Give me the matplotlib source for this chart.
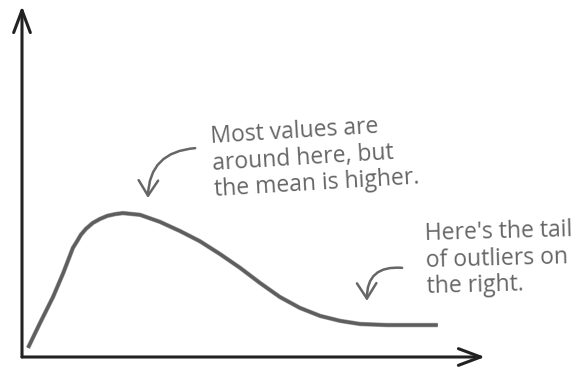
import matplotlib
matplotlib.use("Agg")
import matplotlib.pyplot as plt
from matplotlib.patches import FancyArrowPatch
import matplotlib.patheffects as pe

# ----------------------------
# DATA (axis units 0..10)
# ----------------------------
curve_x = [0.13, 0.39, 0.67, 0.89, 1.10, 1.19, 1.27, 1.38, 1.53, 1.68, 1.84, 2.01,
           2.18, 2.55, 2.98, 3.41, 3.84, 4.28, 4.71, 5.14, 5.57, 6.00, 6.44, 6.87,
           7.30, 7.88, 8.44, 8.98]
curve_y = [0.26, 0.97, 1.71, 2.39, 3.11, 3.30, 3.48, 3.65, 3.82, 3.93, 4.02, 4.07,
           4.10, 4.05, 3.85, 3.59, 3.30, 2.93, 2.54, 2.11, 1.71, 1.40, 1.17, 1.03,
           0.94, 0.91, 0.91, 0.91]

peak_note = "Most values are\naround here, but\nthe mean is higher."
tail_note = "Here's the tail\nof outliers on\nthe right."

INK = "#222222"
PENCIL = "#5e5e5e"
NOTE = "#666666"

# ----------------------------
# FIGURE
# ----------------------------
fig = plt.figure(figsize=(5.8, 3.68), dpi=100)
fig.patch.set_facecolor("white")
ax = fig.add_axes([22 / 580, 11 / 368, 463 / 580, 351 / 368])
ax.set_xlim(0, 10)
ax.set_ylim(0, 10)
ax.axis("off")

# axes drawn as arrows
axis_style = "->,head_length=1.6,head_width=0.6"
ax.annotate("", xy=(1, 0), xytext=(0, 0), xycoords="axes fraction",
            arrowprops=dict(arrowstyle=axis_style, lw=2.2, color=INK,
                            shrinkA=0, shrinkB=0, mutation_scale=10),
            annotation_clip=False)
ax.annotate("", xy=(0, 1), xytext=(0, 0), xycoords="axes fraction",
            arrowprops=dict(arrowstyle=axis_style, lw=2.2, color=INK,
                            shrinkA=0, shrinkB=0, mutation_scale=10),
            annotation_clip=False)

# the skewed curve, pencil look
ax.plot(curve_x, curve_y, color=PENCIL, lw=2.4, solid_capstyle="butt",
        solid_joinstyle="round",
        path_effects=[pe.Stroke(linewidth=3.2, foreground="#a8a8a8"), pe.Normal()])

# notes
font = ["Open Sans", "DejaVu Sans"]
ax.text(4.06, 6.61, peak_note, ha="left", va="top", rotation=3.5,
        rotation_mode="anchor", fontsize=16.5, color=NOTE, family=font,
        linespacing=1.15)
ax.text(8.70, 3.85, tail_note, ha="left", va="top", rotation=1.5,
        rotation_mode="anchor", fontsize=16.5, color=NOTE, family=font,
        linespacing=1.15)

# curved pointer arrows
for start, tip, rad in [((3.74, 5.95), (2.72, 4.53), 0.45),
                        ((8.21, 2.54), (7.45, 1.60), 0.55)]:
    ax.add_patch(FancyArrowPatch(start, tip, connectionstyle=f"arc3,rad={rad}",
                                 arrowstyle="->,head_length=1.1,head_width=0.7",
                                 mutation_scale=10, lw=1.8, color=NOTE,
                                 shrinkA=0, shrinkB=0))

fig.savefig("out.png", dpi=100, facecolor="white")
